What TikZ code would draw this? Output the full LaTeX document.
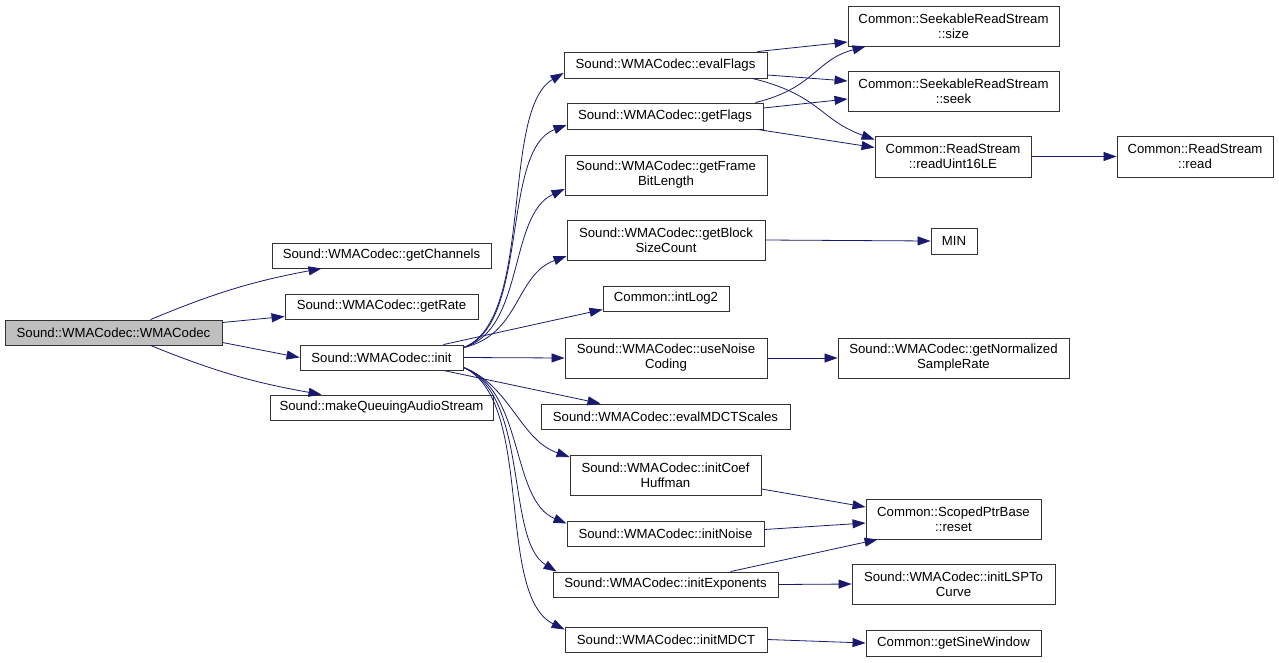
\documentclass[tikz,border=0pt]{standalone}
\usepackage{fontspec}
\setmainfont{Liberation Sans}
\usetikzlibrary{arrows.meta}
\definecolor{midnight}{HTML}{191970}
\definecolor{rootgray}{HTML}{BFBFBF}

\begin{document}
\begin{tikzpicture}[x=1pt,y=-1pt,
	fn/.style={draw=black!80, line width=.9pt, rectangle, inner sep=0pt, align=center, font=\fontsize{13.2}{15}\selectfont},
	call/.style={draw=midnight, line width=.8pt, -{Triangle[length=13pt,width=9pt,fill=midnight]}}]
	\useasboundingbox (0,0) rectangle (1279,662);
	% caller
	\node[fn, fill=rootgray, minimum width=217, minimum height=25] (root) at (113.5,332.5) {Sound::WMACodec::WMACodec};
	% callees
	\foreach \n/\x/\y/\w/\h/\t in {
		getChannels/381.5/255.5/219/25/{Sound::WMACodec::getChannels},
		getRate/381.5/306.5/193/25/{Sound::WMACodec::getRate},
		init/381.5/357.5/163/25/{Sound::WMACodec::init},
		makeQueuing/381.5/407.5/223/25/{Sound::makeQueuingAudioStream},
		evalFlags/665.5/65/203/26/{Sound::WMACodec::evalFlags},
		getFlags/665/116/196/26/{Sound::WMACodec::getFlags},
		getFrameBitLength/666/175/202/40/{Sound::WMACodec::getFrame\\BitLength},
		getBlockSizeCount/666/240/198/40/{Sound::WMACodec::getBlock\\SizeCount},
		intLogTwo/666/298.5/126/25/{Common::intLog2},
		useNoiseCoding/666/358/202/40/{Sound::WMACodec::useNoise\\Coding},
		evalMDCTScales/665.5/416.5/249/25/{Sound::WMACodec::evalMDCTScales},
		initCoefHuffman/665.5/475/191/40/{Sound::WMACodec::initCoef\\Huffman},
		initNoise/665.5/533.5/197/25/{Sound::WMACodec::initNoise},
		initExponents/665.5/584.5/225/25/{Sound::WMACodec::initExponents},
		initMDCT/666/639.5/202/25/{Sound::WMACodec::initMDCT},
		size/953.5/26/211/40/{Common::SeekableReadStream\\::size},
		seek/953.5/91/211/40/{Common::SeekableReadStream\\::seek},
		readUint/953/156.5/156/41/{Common::ReadStream\\::readUint16LE},
		read/1195/156.5/156/41/{Common::ReadStream\\::read},
		MIN/954/241/46/26/{MIN},
		getNormalized/953.5/358/231/40/{Sound::WMACodec::getNormalized\\SampleRate},
		reset/953.5/519/175/40/{Common::ScopedPtrBase\\::reset},
		initLSPToCurve/953.5/584/203/40/{Sound::WMACodec::initLSPTo\\Curve},
		getSineWindow/953.5/643/175/26/{Common::getSineWindow}}
		\node[fn, minimum width=\w, minimum height=\h] (\n) at (\x,\y) {\t};

	% first level
	\draw[call] ([xshift=37pt]root.north) to[bend left=6] ([xshift=-60pt]getChannels.south);
	\draw[call] ([yshift=10pt]root.east) -- ([yshift=-10pt]getRate.west);
	\draw[call] ([yshift=-10pt]root.east) -- (init.west);
	\draw[call] ([xshift=37pt]root.south) to[bend right=6] ([xshift=-60pt]makeQueuing.north);

	% from init
	\draw[call] ([yshift=-3pt]init.north east) .. controls (535,320) and (500,110) .. ([yshift=-8pt]evalFlags.west);
	\draw[call] ([yshift=-3pt]init.north east) .. controls (530,325) and (500,150) .. ([yshift=-9pt]getFlags.west);
	\draw[call] ([yshift=-3pt]init.north east) .. controls (525,330) and (508,215) .. ([yshift=-14pt]getFrameBitLength.west);
	\draw[call] ([yshift=-3pt]init.north east) .. controls (520,335) and (515,275) .. ([yshift=-16pt]getBlockSizeCount.west);
	\draw[call] ([xshift=-20pt]init.north east) -- ([yshift=-11pt]intLogTwo.west);
	\draw[call] (init.east) -- (useNoiseCoding.west);
	\draw[call] ([xshift=-20pt]init.south east) -- ([xshift=-65pt]evalMDCTScales.north);
	\draw[call] ([yshift=3pt]init.south east) .. controls (510,385) and (520,440) .. ([yshift=18pt]initCoefHuffman.west);
	\draw[call] ([yshift=3pt]init.south east) .. controls (525,390) and (510,500) .. ([yshift=10pt]initNoise.west);
	\draw[call] ([yshift=3pt]init.south east) .. controls (530,395) and (505,540) .. ([xshift=4pt]initExponents.north west);
	\draw[call] ([yshift=3pt]init.south east) .. controls (535,400) and (495,595) .. ([yshift=10pt]initMDCT.west);

	% second level
	\draw[call] ([xshift=-10pt]evalFlags.north east) -- ([yshift=-16pt]size.west);
	\draw[call] ([yshift=-10pt]evalFlags.east) -- ([yshift=10pt]seek.west);
	\draw[call] ([xshift=-15pt]evalFlags.south east) .. controls (820,95) and (820,120) .. ([yshift=-4pt]readUint.north west);
	\draw[call] ([xshift=-8pt]getFlags.north east) .. controls (815,88) and (815,60) .. ([xshift=18pt]size.south west);
	\draw[call] ([yshift=8pt]getFlags.east) -- ([yshift=-8pt]seek.west);
	\draw[call] ([xshift=-6pt]getFlags.south east) -- ([yshift=9pt]readUint.west);
	\draw[call] (readUint.east) -- (read.west);
	\draw[call] (getBlockSizeCount.east) -- (MIN.west);
	\draw[call] (useNoiseCoding.east) -- (getNormalized.west);
	\draw[call] ([yshift=-14pt]initCoefHuffman.east) -- ([yshift=12pt]reset.west);
	\draw[call] ([yshift=4pt]initNoise.east) -- ([yshift=-4pt]reset.west);
	\draw[call] ([xshift=-48pt]initExponents.north east) -- ([xshift=12pt]reset.south west);
	\draw[call] (initExponents.east) -- (initLSPToCurve.west);
	\draw[call] (initMDCT.east) -- (getSineWindow.west);
\end{tikzpicture}
\end{document}
